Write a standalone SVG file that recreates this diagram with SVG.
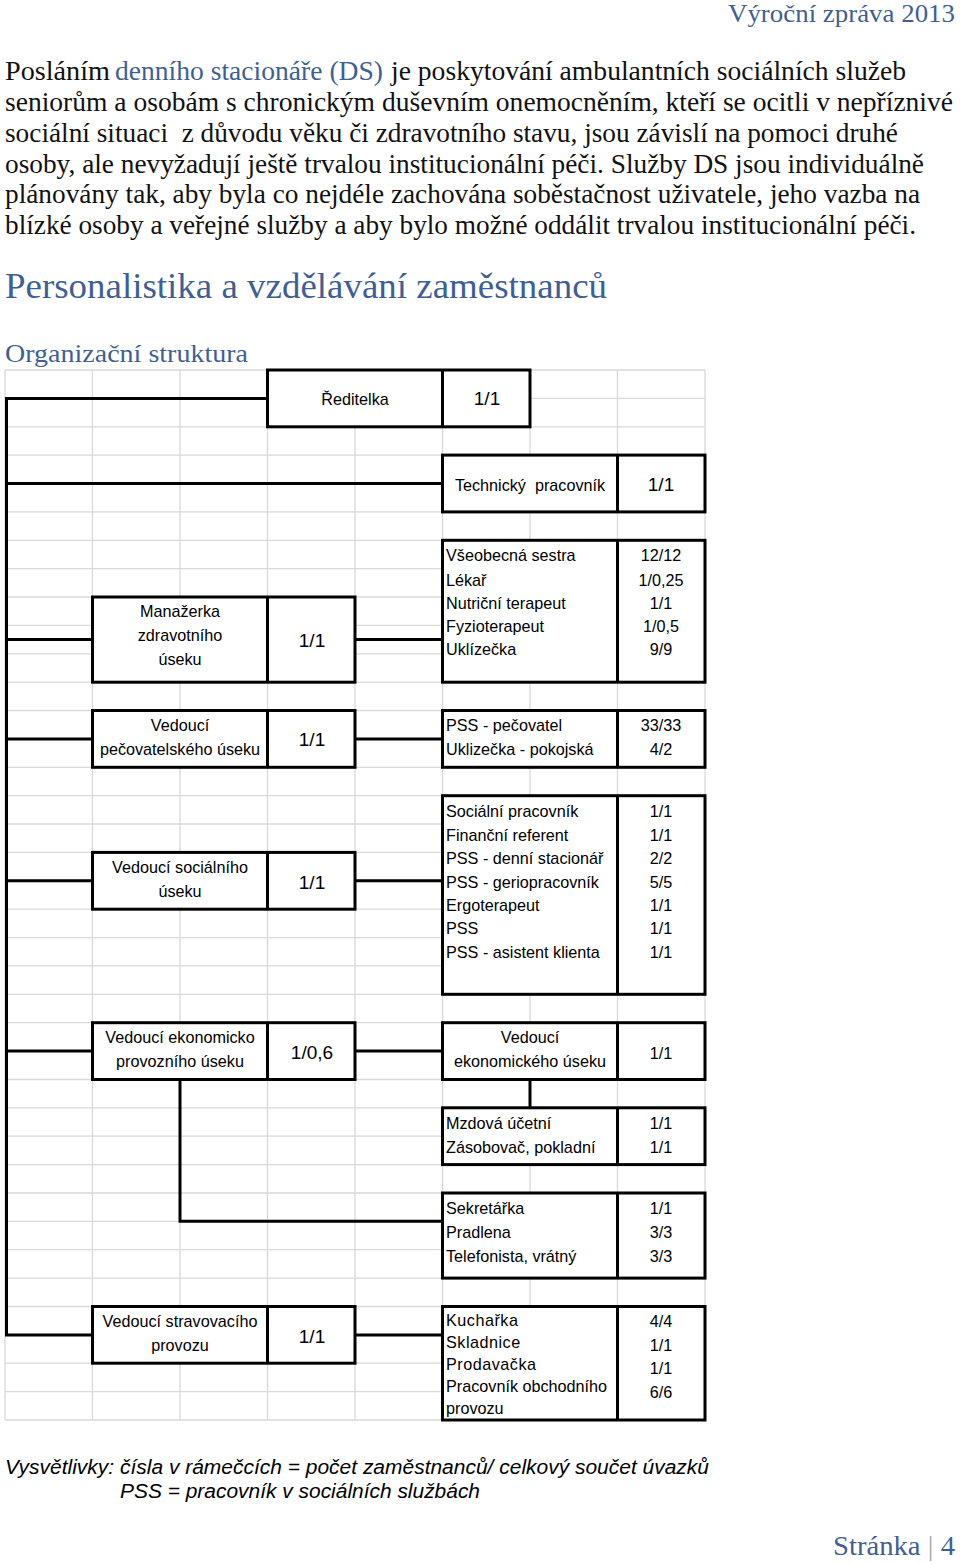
<svg xmlns="http://www.w3.org/2000/svg" width="960" height="1564" viewBox="0 0 960 1564">
<style>
.ser{font-family:"Liberation Serif","DejaVu Serif",serif;}
.body{font-family:"Liberation Serif","DejaVu Serif",serif;font-size:27px;fill:#111;}
.blue{fill:#3f5f93;}
.g{stroke:#d9d9d9;stroke-width:1.3;fill:none;}
.box{fill:#fff;stroke:#000;stroke-width:3;}
.dv{stroke:#000;stroke-width:3;}
.con{stroke:#000;stroke-width:3;fill:none;}
.t{font-family:"Liberation Sans","Arial",sans-serif;font-size:16.2px;fill:#000;}
.c{text-anchor:middle;}
.n{font-family:"Liberation Sans","Arial",sans-serif;font-size:19px;fill:#000;text-anchor:middle;}
.m{font-family:"Liberation Sans","Arial",sans-serif;font-size:16.2px;fill:#000;text-anchor:middle;}
.it{font-family:"Liberation Sans","Arial",sans-serif;font-size:20px;font-style:italic;fill:#000;}
</style>
<rect width="960" height="1564" fill="#fff"/>
<text class="ser blue" x="728" y="22" font-size="25" textLength="227" lengthAdjust="spacingAndGlyphs">Výroční zpráva 2013</text>
<g id="paragraph">
<text class="body" x="5" y="80" textLength="105" lengthAdjust="spacingAndGlyphs">Posláním</text>
<text class="body blue" x="115" y="80" textLength="268" lengthAdjust="spacingAndGlyphs">denního stacionáře (DS)</text>
<text class="body" x="391" y="80" textLength="515" lengthAdjust="spacingAndGlyphs">je poskytování ambulantních sociálních služeb</text>
<text class="body" x="5" y="111" textLength="948" lengthAdjust="spacingAndGlyphs">seniorům a osobám s chronickým duševním onemocněním, kteří se ocitli v nepříznivé</text>
<text class="body" x="5" y="142" textLength="893" lengthAdjust="spacingAndGlyphs" xml:space="preserve">sociální situaci  z důvodu věku či zdravotního stavu, jsou závislí na pomoci druhé</text>
<text class="body" x="5" y="173" textLength="919" lengthAdjust="spacingAndGlyphs">osoby, ale nevyžadují ještě trvalou institucionální péči. Služby DS jsou individuálně</text>
<text class="body" x="5" y="203" textLength="915" lengthAdjust="spacingAndGlyphs">plánovány tak, aby byla co nejdéle zachována soběstačnost uživatele, jeho vazba na</text>
<text class="body" x="5" y="234" textLength="911" lengthAdjust="spacingAndGlyphs">blízké osoby a veřejné služby a aby bylo možné oddálit trvalou institucionální péči.</text>
</g>
<text class="ser blue" x="5" y="298" font-size="35" textLength="602" lengthAdjust="spacingAndGlyphs">Personalistika a vzdělávání zaměstnanců</text>
<text class="ser blue" x="5" y="362" font-size="26" textLength="243" lengthAdjust="spacingAndGlyphs">Organizační struktura</text>
<g id="grid" class="g">
<path d="M5 370V1420M92.5 370V1420M180 370V1420M267.5 370V1420M355 370V1420M442.5 370V1420M530 370V1420M617.5 370V1420M705 370V1420"/>
<path d="M5 370H705M5 398.4H705M5 426.8H705M5 455.1H705M5 483.5H705M5 511.9H705M5 540.3H705M5 568.6H705M5 597H705M5 625.4H705M5 653.8H705M5 682.2H705M5 710.5H705M5 738.9H705M5 767.3H705M5 795.7H705M5 824H705M5 852.4H705M5 880.8H705M5 909.2H705M5 937.6H705M5 965.9H705M5 994.3H705M5 1022.7H705M5 1051.1H705M5 1079.5H705M5 1107.8H705M5 1136.2H705M5 1164.6H705M5 1193H705M5 1221.3H705M5 1249.7H705M5 1278.1H705M5 1306.5H705M5 1334.9H705M5 1363.2H705M5 1391.6H705M5 1420H705"/>
</g>
<g id="connectors" class="con">
<path d="M6.5 398.4V1334.9"/>
<path d="M5 398.4H267.5M5 483.5H442.5M5 639.6H92.5M5 738.9H92.5M5 880.8H92.5M5 1051.1H92.5M5 1334.9H92.5"/>
<path d="M355 639.6H442.5M355 738.9H442.5M355 880.8H442.5M355 1051.1H442.5M355 1334.9H442.5"/>
<path d="M530 1079.5V1107.8"/>
<path d="M180 1079.5V1221.3H442.5"/>
</g>
<g id="reditelka">
<rect class="box" x="267.5" y="370" width="262.5" height="56.8"/>
<line class="dv" x1="442.5" y1="370" x2="442.5" y2="426.8"/>
<text class="t c" x="355" y="404.5">Ředitelka</text>
<text class="n" x="487" y="405">1/1</text>
</g>
<g id="technicky">
<rect class="box" x="442.5" y="455.1" width="262.5" height="56.8"/>
<line class="dv" x1="617.5" y1="455.1" x2="617.5" y2="511.9"/>
<text class="t c" x="530" y="491" xml:space="preserve">Technický  pracovník</text>
<text class="n" x="661" y="491">1/1</text>
</g>
<g id="zdravotni-tym">
<rect class="box" x="442.5" y="540.3" width="262.5" height="141.9"/>
<line class="dv" x1="617.5" y1="540.3" x2="617.5" y2="682.2"/>
<text class="t" x="446" y="561">Všeobecná sestra</text>
<text class="t" x="446" y="585.5">Lékař</text>
<text class="t" x="446" y="608.5">Nutriční terapeut</text>
<text class="t" x="446" y="631.5">Fyzioterapeut</text>
<text class="t" x="446" y="655">Uklízečka</text>
<text class="m" x="661" y="561">12/12</text>
<text class="m" x="661" y="585.5">1/0,25</text>
<text class="m" x="661" y="608.5">1/1</text>
<text class="m" x="661" y="631.5">1/0,5</text>
<text class="m" x="661" y="655">9/9</text>
</g>
<g id="manazerka">
<rect class="box" x="92.5" y="597" width="262.5" height="85.2"/>
<line class="dv" x1="267.5" y1="597" x2="267.5" y2="682.2"/>
<text class="t c" x="180" y="617">Manažerka</text>
<text class="t c" x="180" y="641">zdravotního</text>
<text class="t c" x="180" y="665">úseku</text>
<text class="n" x="312" y="647">1/1</text>
</g>
<g id="vedouci-pecovatelskeho">
<rect class="box" x="92.5" y="710.5" width="262.5" height="56.8"/>
<line class="dv" x1="267.5" y1="710.5" x2="267.5" y2="767.3"/>
<text class="t c" x="180" y="731">Vedoucí</text>
<text class="t c" x="180" y="755">pečovatelského úseku</text>
<text class="n" x="312" y="746">1/1</text>
</g>
<g id="pecovatele">
<rect class="box" x="442.5" y="710.5" width="262.5" height="56.8"/>
<line class="dv" x1="617.5" y1="710.5" x2="617.5" y2="767.3"/>
<text class="t" x="446" y="731">PSS - pečovatel</text>
<text class="t" x="446" y="755">Uklizečka - pokojská</text>
<text class="m" x="661" y="731">33/33</text>
<text class="m" x="661" y="755">4/2</text>
</g>
<g id="socialni-tym">
<rect class="box" x="442.5" y="795.7" width="262.5" height="198.6"/>
<line class="dv" x1="617.5" y1="795.7" x2="617.5" y2="994.3"/>
<text class="t" x="446" y="817">Sociální pracovník</text>
<text class="t" x="446" y="841">Finanční referent</text>
<text class="t" x="446" y="864">PSS - denní stacionář</text>
<text class="t" x="446" y="888">PSS - geriopracovník</text>
<text class="t" x="446" y="911">Ergoterapeut</text>
<text class="t" x="446" y="934">PSS</text>
<text class="t" x="446" y="958">PSS - asistent klienta</text>
<text class="m" x="661" y="817">1/1</text>
<text class="m" x="661" y="841">1/1</text>
<text class="m" x="661" y="864">2/2</text>
<text class="m" x="661" y="888">5/5</text>
<text class="m" x="661" y="911">1/1</text>
<text class="m" x="661" y="934">1/1</text>
<text class="m" x="661" y="958">1/1</text>
</g>
<g id="vedouci-socialniho">
<rect class="box" x="92.5" y="852.4" width="262.5" height="56.8"/>
<line class="dv" x1="267.5" y1="852.4" x2="267.5" y2="909.2"/>
<text class="t c" x="180" y="873">Vedoucí sociálního</text>
<text class="t c" x="180" y="897">úseku</text>
<text class="n" x="312" y="889">1/1</text>
</g>
<g id="vedouci-ekonomicko-provozniho">
<rect class="box" x="92.5" y="1022.7" width="262.5" height="56.8"/>
<line class="dv" x1="267.5" y1="1022.7" x2="267.5" y2="1079.5"/>
<text class="t c" x="180" y="1043">Vedoucí ekonomicko</text>
<text class="t c" x="180" y="1067">provozního úseku</text>
<text class="n" x="312" y="1059">1/0,6</text>
</g>
<g id="vedouci-ekonomickeho">
<rect class="box" x="442.5" y="1022.7" width="262.5" height="56.8"/>
<line class="dv" x1="617.5" y1="1022.7" x2="617.5" y2="1079.5"/>
<text class="t c" x="530" y="1043">Vedoucí</text>
<text class="t c" x="530" y="1067">ekonomického úseku</text>
<text class="m" x="661" y="1059">1/1</text>
</g>
<g id="mzdova">
<rect class="box" x="442.5" y="1107.8" width="262.5" height="56.8"/>
<line class="dv" x1="617.5" y1="1107.8" x2="617.5" y2="1164.6"/>
<text class="t" x="446" y="1129">Mzdová účetní</text>
<text class="t" x="446" y="1153">Zásobovač, pokladní</text>
<text class="m" x="661" y="1129">1/1</text>
<text class="m" x="661" y="1153">1/1</text>
</g>
<g id="sekretarka">
<rect class="box" x="442.5" y="1193" width="262.5" height="85.1"/>
<line class="dv" x1="617.5" y1="1193" x2="617.5" y2="1278.1"/>
<text class="t" x="446" y="1214">Sekretářka</text>
<text class="t" x="446" y="1238">Pradlena</text>
<text class="t" x="446" y="1262">Telefonista, vrátný</text>
<text class="m" x="661" y="1214">1/1</text>
<text class="m" x="661" y="1238">3/3</text>
<text class="m" x="661" y="1262">3/3</text>
</g>
<g id="vedouci-stravovaciho">
<rect class="box" x="92.5" y="1306.5" width="262.5" height="56.7"/>
<line class="dv" x1="267.5" y1="1306.5" x2="267.5" y2="1363.2"/>
<text class="t c" x="180" y="1327">Vedoucí stravovacího</text>
<text class="t c" x="180" y="1351">provozu</text>
<text class="n" x="312" y="1343">1/1</text>
</g>
<g id="kuchyne">
<rect class="box" x="442.5" y="1306.5" width="262.5" height="113.5"/>
<line class="dv" x1="617.5" y1="1306.5" x2="617.5" y2="1420"/>
<text class="t" x="446" y="1326" letter-spacing="0.5">Kuchařka</text>
<text class="t" x="446" y="1348" letter-spacing="0.5">Skladnice</text>
<text class="t" x="446" y="1370" letter-spacing="0.5">Prodavačka</text>
<text class="t" x="446" y="1392">Pracovník obchodního</text>
<text class="t" x="446" y="1414">provozu</text>
<text class="m" x="661" y="1327">4/4</text>
<text class="m" x="661" y="1351">1/1</text>
<text class="m" x="661" y="1374">1/1</text>
<text class="m" x="661" y="1398">6/6</text>
</g>
<text class="it" x="5" y="1474" textLength="704" lengthAdjust="spacingAndGlyphs">Vysvětlivky: čísla v rámečcích = počet zaměstnanců/ celkový součet úvazků</text>
<text class="it" x="120" y="1498" textLength="360" lengthAdjust="spacingAndGlyphs">PSS = pracovník v sociálních službách</text>
<text class="ser" x="833" y="1555" font-size="27" textLength="122" lengthAdjust="spacingAndGlyphs"><tspan class="blue">Stránka </tspan><tspan fill="#a6a6a6">|</tspan><tspan class="blue"> 4</tspan></text>
</svg>
